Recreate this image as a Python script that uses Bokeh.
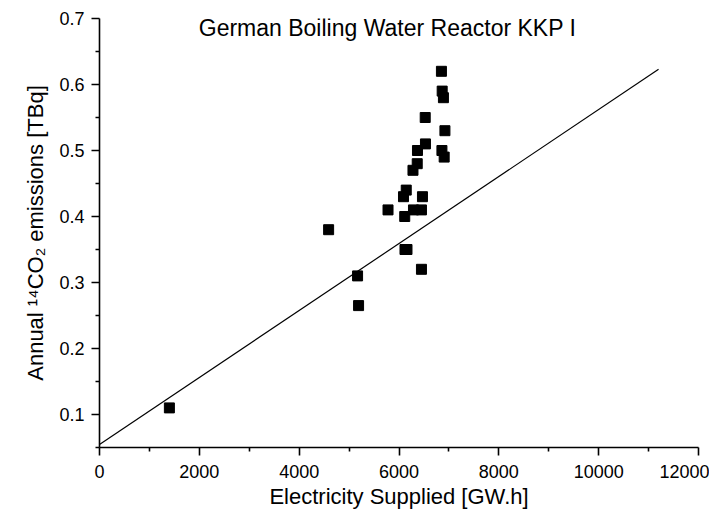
from bokeh.plotting import figure
from bokeh.models import Range1d, FixedTicker, Label
from bokeh.embed import file_html
from bokeh.resources import INLINE

# Data
electricity = [1400, 4590, 5170, 5190, 5780, 6120, 6160, 6115, 6090, 6145,
               6290, 6450, 6470, 6280, 6365, 6370, 6530, 6525, 6450, 6860,
               6905, 6920, 6890, 6865, 6850]
emissions = [0.11, 0.38, 0.31, 0.265, 0.41, 0.35, 0.35, 0.40, 0.43, 0.44,
             0.41, 0.41, 0.43, 0.47, 0.48, 0.50, 0.51, 0.55, 0.32, 0.50,
             0.49, 0.53, 0.58, 0.59, 0.62]
fit_x = [0, 11200]
fit_y = [0.0545, 0.623]

x_ticks = [0, 2000, 4000, 6000, 8000, 10000, 12000]
x_minor = [1000, 3000, 5000, 7000, 9000, 11000]
y_ticks = [0.1, 0.2, 0.3, 0.4, 0.5, 0.6, 0.7]
y_minor = [0.05, 0.15, 0.25, 0.35, 0.45, 0.55, 0.65]

FONT = "Liberation Sans"

p = figure(width=709, height=514, output_backend="svg", toolbar_location=None,
           x_range=Range1d(0, 12000), y_range=Range1d(0.05, 0.7),
           min_border_left=99, min_border_right=11, min_border_top=18,
           min_border_bottom=67)
p.outline_line_color = None
p.xgrid.visible = False
p.ygrid.visible = False

p.line(fit_x, fit_y, line_color="black", line_width=1.2)
p.scatter(electricity, emissions, marker="square", size=10,
          fill_color="black", line_color="black")

p.xaxis.ticker = FixedTicker(ticks=x_ticks, minor_ticks=x_minor)
p.yaxis.ticker = FixedTicker(ticks=y_ticks, minor_ticks=y_minor)

for ax in (p.xaxis, p.yaxis):
    ax.axis_line_color = "black"
    ax.axis_line_width = 1.6
    ax.major_tick_line_color = "black"
    ax.major_tick_line_width = 1.6
    ax.minor_tick_line_color = "black"
    ax.minor_tick_line_width = 1.6
    ax.major_tick_in = 0
    ax.major_tick_out = 8
    ax.minor_tick_in = 0
    ax.minor_tick_out = 4
    ax.major_label_text_font = FONT
    ax.major_label_text_font_size = "18px"
    ax.major_label_text_color = "black"
    ax.axis_label_text_font = FONT
    ax.axis_label_text_font_style = "normal"
    ax.axis_label_text_color = "black"

p.xaxis.axis_label_text_font_size = "22px"
p.yaxis.axis_label_text_font_size = "22px"
p.xaxis.major_label_standoff = 9
p.yaxis.major_label_standoff = 7
p.xaxis.axis_label = "Electricity Supplied [GW.h]"
p.yaxis.axis_label = "Annual \u00b9\u2074CO\u2082 emissions [TBq]"
p.xaxis.axis_label_standoff = 3
p.yaxis.axis_label_standoff = 8

title = Label(x=5770, y=0.686, text="German Boiling Water Reactor KKP I",
              text_align="center", text_baseline="middle",
              text_font=FONT, text_font_size="23px", text_color="black")
p.add_layout(title)

open("out.html", "w").write(file_html(p, INLINE))
